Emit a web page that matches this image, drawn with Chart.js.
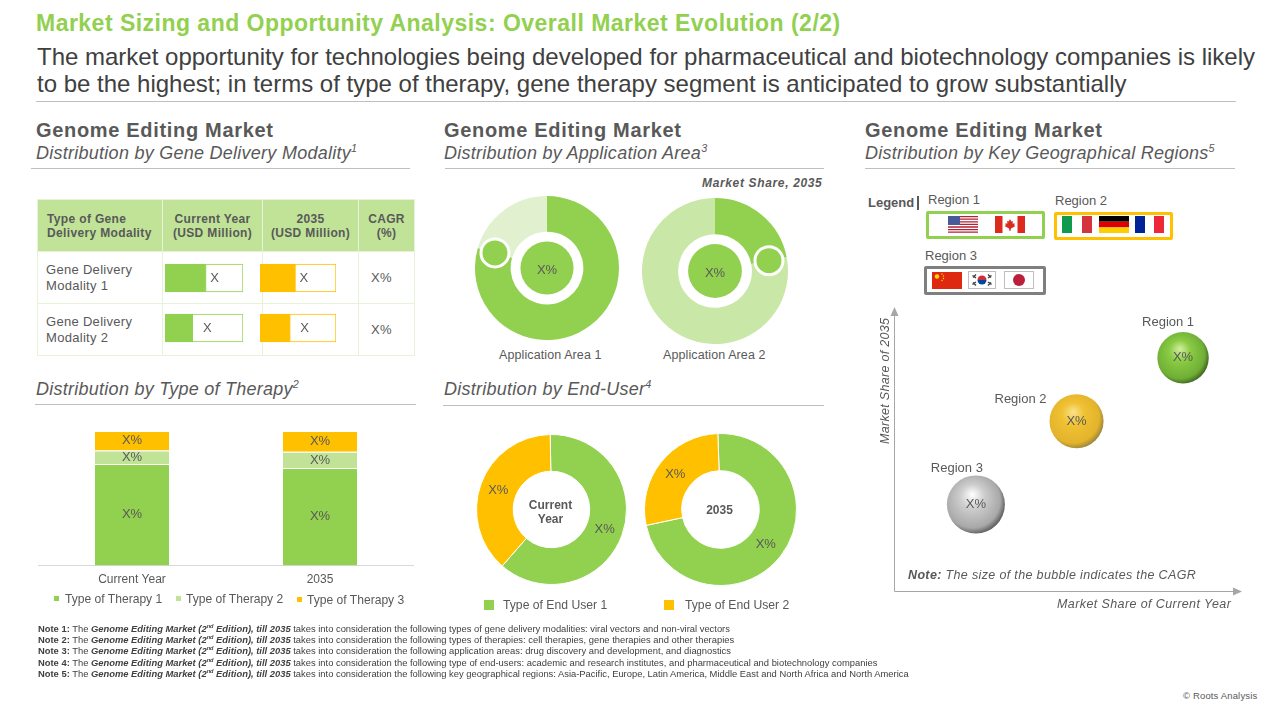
<!DOCTYPE html>
<html>
<head>
<meta charset="utf-8">
<title>Genome Editing Market</title>
<script src="https://cdn.jsdelivr.net/npm/chart.js@4"></script>
<style>
  html, body { margin: 0; padding: 0; background: #fff; }
  body { width: 1280px; height: 720px; position: relative; overflow: hidden; font-family: "Liberation Sans", Arial, sans-serif; color: #595959; }
  .t { position: absolute; white-space: nowrap; line-height: 1; }
  canvas { position: absolute; }
  .rule { position: absolute; height: 1px; background: #BFBFBF; }
  .head { font-size: 20px; font-weight: bold; color: #595959; letter-spacing: 0.68px; }
  .sub { font-size: 18px; font-style: italic; color: #595959; letter-spacing: 0.26px; }
  sup { font-size: 60%; line-height: 0; }
  .lab { font-size: 12.5px; }
  table { position: absolute; left: 37px; top: 199px; width: 377px; border-collapse: collapse; table-layout: fixed; }
  th { background: #C0E398; border: 1px solid #E6F3D8; font-size: 12px; line-height: 14px; color: #595959; letter-spacing: 0.35px; height: 51px; padding: 0; }
  th:first-child { text-align: left; padding-left: 9px; }
  td { border: 1px solid #E6F3D8; font-size: 13px; line-height: 16px; letter-spacing: 0.3px; padding: 0; height: 51px; }
  td:first-child { padding-left: 8px; }
  td:last-child { text-align: center; padding-right: 10px; }
  .box { position: absolute; box-sizing: border-box; border-style: solid; border-width: 3px; border-radius: 2px; }
  svg { position: absolute; display: block; }
  .sw { position: absolute; width: 10px; height: 10px; }
  .sm { position: absolute; width: 5px; height: 5px; }
  .note { position: absolute; left: 38px; font-size: 9.4px; line-height: 1; color: #404040; white-space: nowrap; }
</style>
</head>
<body>

<div class="t" style="left:36px;top:12px;font-size:23px;font-weight:bold;color:#92D050;letter-spacing:0.48px">Market Sizing and Opportunity Analysis: Overall Market Evolution (2/2)</div>
<div class="t" style="left:37px;top:45px;font-size:24px;color:#404040">The market opportunity for technologies being developed for pharmaceutical and biotechnology companies is likely</div>
<div class="t" style="left:37px;top:72px;font-size:24px;color:#404040">to be the highest; in terms of type of therapy, gene therapy segment is anticipated to grow substantially</div>
<div class="rule" style="left:36px;top:101px;width:1200px"></div>

<div class="t head" style="left:36px;top:120px">Genome Editing Market</div>
<div class="t sub" style="left:36px;top:144px">Distribution by Gene Delivery Modality<sup>1</sup></div>
<div class="rule" style="left:31px;top:168px;width:379px"></div>

<div class="t head" style="left:444px;top:120px">Genome Editing Market</div>
<div class="t sub" style="left:444px;top:144px">Distribution by Application Area<sup>3</sup></div>
<div class="rule" style="left:445px;top:168px;width:379px"></div>

<div class="t head" style="left:865px;top:120px">Genome Editing Market</div>
<div class="t sub" style="left:865px;top:144px">Distribution by Key Geographical Regions<sup>5</sup></div>
<div class="rule" style="left:865px;top:168px;width:370px"></div>

<table>
  <colgroup><col style="width:125px"><col style="width:100px"><col style="width:96px"><col style="width:56px"></colgroup>
  <tr><th>Type of Gene<br>Delivery Modality</th><th>Current Year<br>(USD Million)</th><th>2035<br>(USD Million)</th><th>CAGR<br>(%)</th></tr>
  <tr><td>Gene Delivery<br>Modality 1</td><td></td><td></td><td>X%</td></tr>
  <tr><td>Gene Delivery<br>Modality 2</td><td></td><td></td><td>X%</td></tr>
</table>
<canvas id="modalityCurrent" width="78" height="100" style="left:165px;top:253px"></canvas>
<canvas id="modality2035" width="76" height="100" style="left:260px;top:253px"></canvas>

<div class="t" style="left:702px;top:177px;font-size:12px;font-weight:bold;font-style:italic;letter-spacing:0.65px">Market Share, 2035</div>
<canvas id="appArea1" width="144" height="144" style="left:475px;top:196px"></canvas>
<canvas id="appArea2" width="146" height="146" style="left:642px;top:198px"></canvas>
<div class="t lab" style="left:499px;top:349px;letter-spacing:0.1px">Application Area 1</div>
<div class="t lab" style="left:663px;top:349px;letter-spacing:0.1px">Application Area 2</div>

<div class="t sub" style="left:36px;top:380px">Distribution by Type of Therapy<sup>2</sup></div>
<div class="rule" style="left:35px;top:404px;width:381px"></div>
<canvas id="therapyChart" width="376" height="169" style="left:38px;top:425px"></canvas>
<div class="sm" style="left:54px;top:596px;background:#92D050"></div>
<div class="t" style="left:65px;top:593px;font-size:12.1px">Type of Therapy 1</div>
<div class="sm" style="left:176px;top:596px;background:#C0E398"></div>
<div class="t" style="left:186px;top:593px;font-size:12.1px">Type of Therapy 2</div>
<div class="sm" style="left:297px;top:597px;background:#FFC000"></div>
<div class="t" style="left:307px;top:594px;font-size:12.1px">Type of Therapy 3</div>

<div class="t sub" style="left:444px;top:380px">Distribution by End-User<sup>4</sup></div>
<div class="rule" style="left:443px;top:405px;width:381px"></div>
<canvas id="endUserCurrent" width="151" height="151" style="left:476px;top:434px"></canvas>
<canvas id="endUser2035" width="153" height="153" style="left:644px;top:433px"></canvas>
<div class="sw" style="left:484px;top:600px;background:#92D050"></div>
<div class="t" style="left:503px;top:599px;font-size:12.2px">Type of End User 1</div>
<div class="sw" style="left:664px;top:600px;background:#FFC000"></div>
<div class="t" style="left:685px;top:599px;font-size:12.2px">Type of End User 2</div>

<!-- legend with flags -->
<div class="t" style="left:868px;top:196px;font-size:13px;font-weight:bold">Legend</div>
<div style="position:absolute;left:917px;top:196px;width:2px;height:14px;background:#595959"></div>
<div class="t" style="left:928px;top:193px;font-size:13px">Region 1</div>
<div class="t" style="left:1055px;top:194px;font-size:13px">Region 2</div>
<div class="t" style="left:925px;top:249px;font-size:13px">Region 3</div>
<div class="box" style="left:926px;top:211px;width:119px;height:28px;border-color:#92D050"></div>
<div class="box" style="left:1054px;top:212px;width:119px;height:28px;border-color:#FFC000"></div>
<div class="box" style="left:924px;top:266px;width:122px;height:29px;border-color:#7F7F7F"></div>

<svg style="left:948px;top:216px" width="30" height="17" viewBox="0 0 30 17">
  <rect width="30" height="17" fill="#fff"/>
  <path d="M0 0.6H30M0 3.2H30M0 5.8H30M0 8.4H30M0 11H30M0 13.6H30M0 16.2H30" stroke="#B22234" stroke-width="1.3"/>
  <rect width="12" height="9" fill="#4A5A98"/>
</svg>
<svg style="left:995px;top:216px" width="30" height="17" viewBox="0 0 30 17">
  <rect width="30" height="17" fill="#fff"/>
  <rect width="7.5" height="17" fill="#DD2A1E"/><rect x="22.5" width="7.5" height="17" fill="#DD2A1E"/>
  <path d="M15 3L16.3 5.6L18 5L17.5 7.6L19.8 7.4L19.2 9.4L20.5 10L16 12.4L15.4 15H14.6L14 12.4L9.5 10L10.8 9.4L10.2 7.4L12.5 7.6L12 5L13.7 5.6Z" fill="#DD2A1E"/>
</svg>
<svg style="left:1062px;top:216px" width="30" height="17" viewBox="0 0 30 17">
  <rect width="10" height="17" fill="#109A4D"/><rect x="20" width="10" height="17" fill="#D5343F"/>
</svg>
<svg style="left:1099px;top:216px" width="30" height="17" viewBox="0 0 30 17">
  <rect width="30" height="5.7" fill="#000"/><rect y="5.7" width="30" height="5.7" fill="#DD0000"/><rect y="11.4" width="30" height="5.6" fill="#FFCE00"/>
</svg>
<svg style="left:1135px;top:216px" width="29" height="17" viewBox="0 0 29 17">
  <rect width="10" height="17" fill="#002395"/><rect x="19" width="10" height="17" fill="#ED2939"/>
</svg>
<svg style="left:932px;top:272px" width="30" height="17" viewBox="0 0 30 17">
  <rect width="30" height="17" fill="#DE2910"/>
  <circle cx="5" cy="4.5" r="2.2" fill="#FFDE00"/>
  <circle cx="10" cy="2" r="0.7" fill="#FFDE00"/><circle cx="11.5" cy="4" r="0.7" fill="#FFDE00"/><circle cx="11.5" cy="6.5" r="0.7" fill="#FFDE00"/><circle cx="10" cy="8.5" r="0.7" fill="#FFDE00"/>
</svg>
<svg style="left:968px;top:271px" width="28" height="18" viewBox="0 0 28 18">
  <rect x="0.5" y="0.5" width="27" height="17" fill="#fff" stroke="#BFBFBF"/>
  <path d="M9.5 9a4.5 4.5 0 0 1 9 0z" fill="#CD2E3A"/><path d="M9.5 9a4.5 4.5 0 0 0 9 0z" fill="#0047A0"/>
  <path d="M4.5 4.5L8 7M8 3.5L5 6.5M20 7L23.5 4.5M20 3.5L23 6.5M4.5 13.5L8 11M8 14.5L5 11.5M20 11L23.5 13.5M20 14.5L23 11.5" stroke="#404040" stroke-width="1.4"/>
</svg>
<svg style="left:1004px;top:271px" width="30" height="18" viewBox="0 0 30 18">
  <rect x="0.5" y="0.5" width="29" height="17" fill="#fff" stroke="#BFBFBF"/>
  <circle cx="15" cy="9" r="6" fill="#BC1F3C"/>
</svg>

<canvas id="regionChart" width="360" height="296" style="left:888px;top:302px"></canvas>
<div class="t" style="left:879px;top:444px;font-size:12.5px;font-style:italic;letter-spacing:0.3px;transform-origin:0 0;transform:rotate(-90deg)">Market Share of 2035</div>
<div class="t" style="left:1057px;top:598px;font-size:12.5px;font-style:italic;letter-spacing:0.4px">Market Share of Current Year</div>
<div class="t" style="left:908px;top:569px;font-size:12.5px;font-style:italic;letter-spacing:0.35px"><b>Note:</b> The size of the bubble indicates the CAGR</div>

<div class="note" style="top:624px"><b>Note 1:</b> The <b><i>Genome Editing Market (2<sup>nd</sup> Edition), till 2035</i></b> takes into consideration the following types of gene delivery modalities: viral vectors and non-viral vectors</div>
<div class="note" style="top:635px"><b>Note 2:</b> The <b><i>Genome Editing Market (2<sup>nd</sup> Edition), till 2035</i></b> takes into consideration the following types of therapies: cell therapies, gene therapies and other therapies</div>
<div class="note" style="top:646px"><b>Note 3:</b> The <b><i>Genome Editing Market (2<sup>nd</sup> Edition), till 2035</i></b> takes into consideration the following application areas: drug discovery and development, and diagnostics</div>
<div class="note" style="top:658px"><b>Note 4:</b> The <b><i>Genome Editing Market (2<sup>nd</sup> Edition), till 2035</i></b> takes into consideration the following type of end-users: academic and research institutes, and pharmaceutical and biotechnology companies</div>
<div class="note" style="top:669px"><b>Note 5:</b> The <b><i>Genome Editing Market (2<sup>nd</sup> Edition), till 2035</i></b> takes into consideration the following key geographical regions: Asia-Pacific, Europe, Latin America, Middle East and North Africa and North America</div>
<div class="t" style="left:1183px;top:691px;font-size:9.5px;letter-spacing:0.15px">© Roots Analysis</div>

<script>
// DATA
var modalities = ["Gene Delivery Modality 1", "Gene Delivery Modality 2"];
var modalityCurrentShare = [52, 35];
var modality2035Share = [46, 39];

var applicationAreas = ["Application Area 1", "Application Area 2"];
var appArea1Share = [79.5, 20.5];
var appArea2Share = [22, 78];

var therapyYears = ["Current Year", "2035"];
var therapyType1 = [75.5, 72.5];
var therapyType2 = [10, 12];
var therapyType3 = [14.5, 15.5];

var endUserTypes = ["Type of End User 1", "Type of End User 2"];
var endUserCurrent = [61.7, 38.3];
var endUser2035 = [72.2, 27.8];

var regions = ["Region 1", "Region 2", "Region 3"];
var shareCurrentYear = [83.3, 52.6, 23.6];
var share2035 = [82.4, 60, 30.6];
var cagrBubble = [25.7, 27, 29];

var GREEN = "#92D050", LIGHT = "#C0E398", ORANGE = "#FFC000", TEXT = "#595959";

Chart.defaults.font.family = '"Liberation Sans", Arial, sans-serif';
Chart.defaults.animation = false;
Chart.defaults.responsive = false;
Chart.defaults.plugins.tooltip.enabled = false;
Chart.defaults.plugins.legend.display = false;

function drawText(ctx, text, x, y, font, color) {
    ctx.save();
    ctx.font = font || '13px "Liberation Sans"';
    ctx.fillStyle = color || TEXT;
    ctx.textAlign = "center";
    ctx.textBaseline = "middle";
    ctx.fillText(text, x, y);
    ctx.restore();
}

// small text and marker bits the library has no option for
var marks = {
    id: "marks",
    afterDatasetsDraw: function (chart, args, opts) {
        var ctx = chart.ctx;
        var first = chart.getDatasetMeta(0).data[0];
        if (opts.segments) {
            chart.data.datasets.forEach(function (ds, d) {
                chart.getDatasetMeta(d).data.forEach(function (el) {
                    var p = el.getCenterPoint();
                    drawText(ctx, "X%", p.x, p.y);
                });
            });
        }
        if (opts.centerText) {
            var n = opts.centerText.length;
            opts.centerText.forEach(function (line, i) {
                drawText(ctx, line, first.x - 1, first.y + 1 + (n - 1) * 2.5 + (i - (n - 1) / 2) * 14, 'bold 12px "Liberation Sans"');
            });
        }
        if (opts.ring) {
            var mid = (first.innerRadius + first.outerRadius) / 2;
            var bx = first.x + Math.cos(first.endAngle) * mid;
            var by = first.y + Math.sin(first.endAngle) * mid;
            ctx.save();
            ctx.fillStyle = "#fff";
            ctx.beginPath(); ctx.arc(bx, by, 15.5, 0, Math.PI * 2); ctx.fill();
            ctx.fillStyle = GREEN;
            ctx.beginPath(); ctx.arc(bx, by, 12.5, 0, Math.PI * 2); ctx.fill();
            ctx.beginPath(); ctx.arc(first.x, first.y, first.innerRadius * 0.73, 0, Math.PI * 2); ctx.fill();
            ctx.restore();
            drawText(ctx, "X%", first.x, first.y + 2);
        }
        if (opts.rowGap) {
            chart.getDatasetMeta(1).data.forEach(function (el, i) {
                drawText(ctx, "X", el.base + opts.rowGap[i], el.y);
            });
        }
    }
};

// CELL BARS
function modalityChart(id, share, color, gaps) {
    return new Chart(document.getElementById(id), {
        type: "bar",
        plugins: [marks],
        data: {
            labels: modalities,
            datasets: [
                { data: share, backgroundColor: color, borderColor: color, borderWidth: 1, barThickness: 28 },
                { data: share.map(function (v) { return 100 - v; }), backgroundColor: "#fff", borderColor: color, borderWidth: 1, borderSkipped: false, barThickness: 28 }
            ]
        },
        options: {
            indexAxis: "y",
            scales: {
                x: { display: false, stacked: true, min: 0, max: 100 },
                y: { display: false, stacked: true }
            },
            plugins: { marks: { rowGap: gaps } }
        }
    });
}
modalityChart("modalityCurrent", modalityCurrentShare, GREEN, [9, 15]);
modalityChart("modality2035", modality2035Share, ORANGE, [9, 15]);

// APPLICATION AREA
function appChart(id, label, share, light) {
    return new Chart(document.getElementById(id), {
        type: "doughnut",
        plugins: [marks],
        data: {
            labels: [label, "Other"],
            datasets: [{ data: share, backgroundColor: [GREEN, light], borderWidth: 0 }]
        },
        options: { cutout: "50.5%", plugins: { marks: { ring: true } } }
    });
}
appChart("appArea1", applicationAreas[0], appArea1Share, "#E1F0CE");
appChart("appArea2", applicationAreas[1], appArea2Share, "#C9E7A6");

// TYPE OF THERAPY
new Chart(document.getElementById("therapyChart"), {
    type: "bar",
    plugins: [marks],
    data: {
        labels: therapyYears,
        datasets: [
            { label: "Type of Therapy 1", data: therapyType1, backgroundColor: GREEN },
            { label: "Type of Therapy 2", data: therapyType2, backgroundColor: LIGHT },
            { label: "Type of Therapy 3", data: therapyType3, backgroundColor: ORANGE }
        ].map(function (ds) {
            ds.borderColor = "#fff";
            ds.borderWidth = { top: 1, right: 0, bottom: 0, left: 0 };
            ds.borderSkipped = false;
            ds.barPercentage = 0.394;
            ds.categoryPercentage = 1;
            return ds;
        })
    },
    options: {
        layout: { padding: { top: 6 } },
        scales: {
            x: {
                stacked: true,
                grid: { display: false, drawTicks: false },
                border: { color: "#D9D9D9" },
                ticks: { color: TEXT, font: { size: 12 }, padding: 7 }
            },
            y: { display: false, stacked: true, min: 0, max: 100 }
        },
        plugins: { marks: { segments: true } }
    }
});

// END USER
function endUserChart(id, share, rotation, center) {
    return new Chart(document.getElementById(id), {
        type: "doughnut",
        plugins: [marks],
        data: {
            labels: endUserTypes,
            datasets: [{ data: share, backgroundColor: [GREEN, ORANGE], borderColor: "#fff", borderWidth: 1 }]
        },
        options: { cutout: "51%", rotation: rotation, plugins: { marks: { segments: true, centerText: center } } }
    });
}
endUserChart("endUserCurrent", endUserCurrent, -1, ["Current", "Year"]);
endUserChart("endUser2035", endUser2035, -2, ["2035"]);

// REGIONS
var bubbleShades = [
    ["#D2EE9E", "#8ACB44", "#6FAE35", "#34541C"],
    ["#F9E38E", "#F0C132", "#E3B42C", "#8A7A40"],
    ["#FFFFFF", "#CDCDCD", "#A8A8A8", "#4A4A4A"]
];
var labelOffset = [[-15, -35], [-56, -22], [-19, -36]];

function bubbleFill(c) {
    if (c.raw === undefined) return GREEN;
    var i = c.dataIndex;
    var x = c.chart.scales.x.getPixelForValue(c.raw.x);
    var y = c.chart.scales.y.getPixelForValue(c.raw.y);
    // the controller asks for this once before layout, when the scales have no size yet
    if (!isFinite(x) || !isFinite(y)) return bubbleShades[i][1];
    var r = c.raw.r;
    var g = c.chart.ctx.createRadialGradient(x - r * 0.12, y - r * 0.36, 0, x - r * 0.12, y - r * 0.1, r * 1.2);
    g.addColorStop(0, bubbleShades[i][0]);
    g.addColorStop(0.35, bubbleShades[i][1]);
    g.addColorStop(0.8, bubbleShades[i][2]);
    g.addColorStop(1, bubbleShades[i][3]);
    return g;
}

var regionDecor = {
    id: "regionDecor",
    beforeDatasetsDraw: function (chart) {
        var a = chart.chartArea, ctx = chart.ctx;
        ctx.save();
        ctx.strokeStyle = ctx.fillStyle = "#A6A6A6";
        ctx.lineWidth = 1;
        ctx.beginPath();
        ctx.moveTo(a.left + 0.5, a.top + 6);
        ctx.lineTo(a.left + 0.5, a.bottom + 0.5);
        ctx.lineTo(a.right - 6, a.bottom + 0.5);
        ctx.stroke();
        ctx.beginPath();
        ctx.moveTo(a.left + 0.5, a.top - 1);
        ctx.lineTo(a.left + 4.5, a.top + 8);
        ctx.lineTo(a.left - 3.5, a.top + 8);
        ctx.fill();
        ctx.beginPath();
        ctx.moveTo(a.right + 1, a.bottom + 0.5);
        ctx.lineTo(a.right - 8, a.bottom + 4.5);
        ctx.lineTo(a.right - 8, a.bottom - 3.5);
        ctx.fill();
        ctx.restore();
    },
    afterDatasetsDraw: function (chart) {
        chart.getDatasetMeta(0).data.forEach(function (el, i) {
            drawText(chart.ctx, "X%", el.x, el.y);
            drawText(chart.ctx, regions[i], el.x + labelOffset[i][0], el.y + labelOffset[i][1]);
        });
    }
};

new Chart(document.getElementById("regionChart"), {
    type: "bubble",
    plugins: [regionDecor],
    data: {
        labels: regions,
        datasets: [{
            data: regions.map(function (name, i) {
                return { x: shareCurrentYear[i], y: share2035[i], r: cagrBubble[i] };
            }),
            backgroundColor: bubbleFill,
            borderWidth: 0
        }]
    },
    options: {
        layout: { autoPadding: false, padding: { left: 6, right: 7, top: 6, bottom: 7 } },
        scales: {
            x: { display: false, min: 0, max: 100 },
            y: { display: false, min: 0, max: 100 }
        }
    }
});
</script>
</body>
</html>
